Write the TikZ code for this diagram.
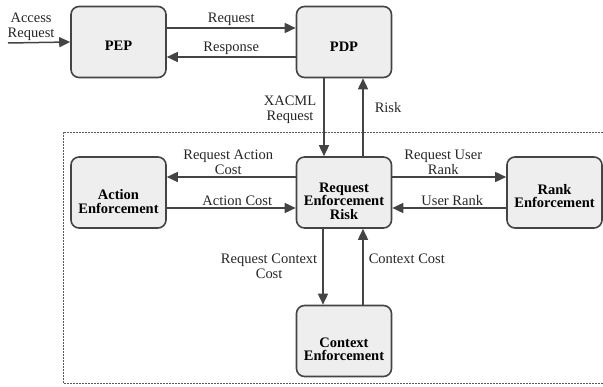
\documentclass[tikz,border=0pt]{standalone}
\usepackage{fontspec}
\setmainfont{Liberation Serif}
\usetikzlibrary{positioning,calc,arrows.meta}

\definecolor{boxline}{HTML}{444444}
\definecolor{boxfill}{HTML}{EEEEEE}

\tikzset{
  box/.style={draw=boxline, fill=boxfill, line width=1.6pt, rounded corners=8pt,
              minimum width=95pt, minimum height=71pt, inner sep=0pt},
  boxtext/.style={font=\fontsize{14.5}{13.5}\selectfont\bfseries, align=center, inner sep=0pt},
  flow/.style={draw=boxline, line width=1.5pt, -{Triangle[length=11pt,width=10pt]}},
  lbl/.style={font=\fontsize{14.5}{15}\selectfont, align=center, inner sep=2pt, text=black!85},
  frame/.style={draw=black!65, line width=0.8pt, dash pattern=on 2pt off 1pt}
}

\begin{document}
\begin{tikzpicture}[x=1pt, y=-1pt, line join=round]
  \useasboundingbox (0,0) rectangle (603,387);

  %--- dashed frame round the enforcement part ------------------------------
  \draw[frame] (603,132) -| (63,383) -- (603,383);

  %--- boxes -----------------------------------------------------------------
  \node[box] (pep) at (118.5,42) {};
  \node[box] (pdp) at (344,42) {};
  \node[box] (act) at (118.5,192.5) {};
  \node[box] (rer) at (344,192.5) {};
  \node[box] (rank) at (554.5,192.5) {};
  \node[box] (ctx) at (344,341) {};

  % box texts (sit a bit low in the boxes)
  \node[boxtext] (peptxt) at ([yshift=-4pt]pep.center) {PEP};
  \node[boxtext] (pdptxt) at ([yshift=-5pt]pdp.center) {PDP};
  \node[boxtext] (acttxt) at ([yshift=-9pt]act.center) {Action\\Enforcement};
  \node[boxtext] (rertxt) at ([yshift=-8.5pt]rer.center) {Request\\Enforcement\\Risk};
  \node[boxtext] (ranktxt) at ([yshift=-3.5pt]rank.center) {Rank\\Enforcement};
  \node[boxtext] (ctxtxt) at ([yshift=-8.5pt]ctx.center) {Context\\Enforcement};

  %--- PEP / PDP ---------------------------------------------------------------
  \coordinate (access) at (8,43);
  \draw[flow] (access) -- (pep.west)
    node[lbl, at start, above right, xshift=-3pt] {Access\\Request};
  \draw[flow] ([yshift=14pt]pep.east) -- ([yshift=14pt]pdp.west)
    node[lbl, midway, above] {Request};
  \draw[flow] ([yshift=-15pt]pdp.west) -- ([yshift=-15pt]pep.east)
    node[lbl, midway, above] {Response};

  %--- PDP / request enforcement --------------------------------------------
  \draw[flow] ([xshift=-20pt]pdp.south) -- ([xshift=-20pt]rer.north)
    node[lbl, pos=0.4, left, xshift=-5pt] {XACML\\Request};
  \draw[flow] ([xshift=19pt]rer.north) -- ([xshift=19pt]pdp.south)
    node[lbl, pos=0.62, right, xshift=9pt] {Risk};

  %--- action enforcement ------------------------------------------------------
  \draw[flow] ([yshift=15.5pt]rer.west) -- ([yshift=15.5pt]act.east)
    node[lbl, midway, above, xshift=-3pt] {Request Action\\Cost};
  \draw[flow] ([yshift=-15.5pt]act.east) -- ([yshift=-15.5pt]rer.west)
    node[lbl, midway, above, xshift=6pt] {Action Cost};

  %--- rank enforcement --------------------------------------------------------
  \draw[flow] ([yshift=15.5pt]rer.east) -- ([yshift=15.5pt]rank.west)
    node[lbl, midway, above, xshift=-6pt] {Request User\\Rank};
  \draw[flow] ([yshift=-15.5pt]rank.west) -- ([yshift=-15.5pt]rer.east)
    node[lbl, midway, above, xshift=3pt] {User Rank};

  %--- context enforcement -----------------------------------------------------
  \draw[flow] ([xshift=-21pt]rer.south) -- ([xshift=-21pt]ctx.north)
    node[lbl, midway, left, xshift=-3pt] {Request Context\\Cost};
  \draw[flow] ([xshift=19pt]ctx.north) -- ([xshift=19pt]rer.south)
    node[lbl, pos=0.6, right, xshift=3pt] {Context Cost};
\end{tikzpicture}
\end{document}
